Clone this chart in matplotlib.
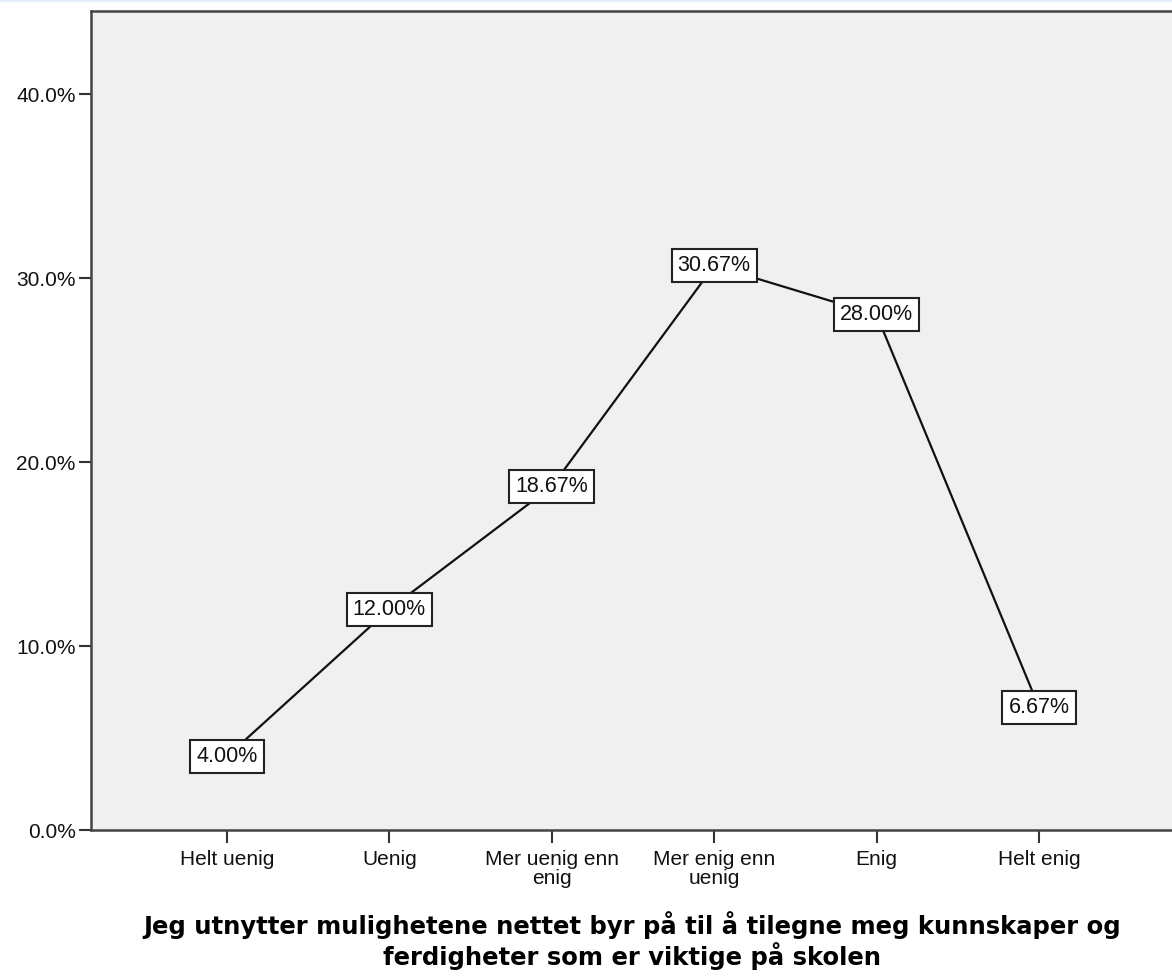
import matplotlib
matplotlib.use("Agg")
import matplotlib.pyplot as plt
from matplotlib.patches import Rectangle

categories = ["Helt uenig", "Uenig", "Mer uenig enn\nenig", "Mer enig enn\nuenig", "Enig", "Helt enig"]
values = [4.00, 12.00, 18.67, 30.67, 28.00, 6.67]
yticks = [0, 10, 20, 30, 40]
ytick_labels = ["0.0%", "10.0%", "20.0%", "30.0%", "40.0%"]
xlabel = "Jeg utnytter mulighetene nettet byr på til å tilegne meg kunnskaper og\nferdigheter som er viktige på skolen"

plt.rcParams['font.family'] = ['Liberation Sans', 'DejaVu Sans']

W, H = 1172, 976
fig = plt.figure(figsize=(W / 100, H / 100), dpi=100)

# axes in pixel coords
left_px, right_px, top_px, bottom_px = 91, 1185, 11, 830
ax = fig.add_axes([left_px / W, 1 - bottom_px / H, (right_px - left_px) / W, (bottom_px - top_px) / H])
ax.set_facecolor("#f0f0f0")

x = list(range(len(categories)))
ax.plot(x, values, color="#111111", lw=1.6, zorder=2)

for xi, v in zip(x, values):
    ax.text(xi, v, f"{v:.2f}%", ha="center", va="center", fontsize=15.5, color="#111111", zorder=3,
            bbox=dict(boxstyle="square,pad=0.28", facecolor="white", edgecolor="#222222", linewidth=1.5))

# x range: cat0 at px 227, spacing 162.4
sp = (1039 - 227) / 5
ax.set_xlim((left_px - 227) / sp, (right_px - 227) / sp)
ax.set_ylim(0, (bottom_px - top_px) / 18.4)

ax.set_xticks(x)
ax.set_xticklabels(categories, fontsize=15, linespacing=0.98)
ax.set_yticks(yticks)
ax.set_yticklabels(ytick_labels, fontsize=15)

for side in ["left", "bottom", "top", "right"]:
    ax.spines[side].set_color("#444444")
    ax.spines[side].set_linewidth(1.8)

ax.tick_params(axis="both", direction="out", length=9, width=1.5, color="#333333", labelcolor="#111111")
ax.tick_params(axis="x", pad=5.5)
ax.tick_params(axis="y", pad=2)

# axis title (bold, centred below the axis)
fig.text(632 / W, 1 - 965 / H, xlabel, ha="center", va="baseline", fontsize=17.5,
         fontweight="bold", family="DejaVu Sans", linespacing=1.12, color="#000000",
         multialignment="center")

# faint top border line
fig.add_artist(Rectangle((0, 1 - 2 / H), 1, 2 / H, transform=fig.transFigure, facecolor="#e6eef9", edgecolor="none"))

fig.savefig("out.png", dpi=100)
